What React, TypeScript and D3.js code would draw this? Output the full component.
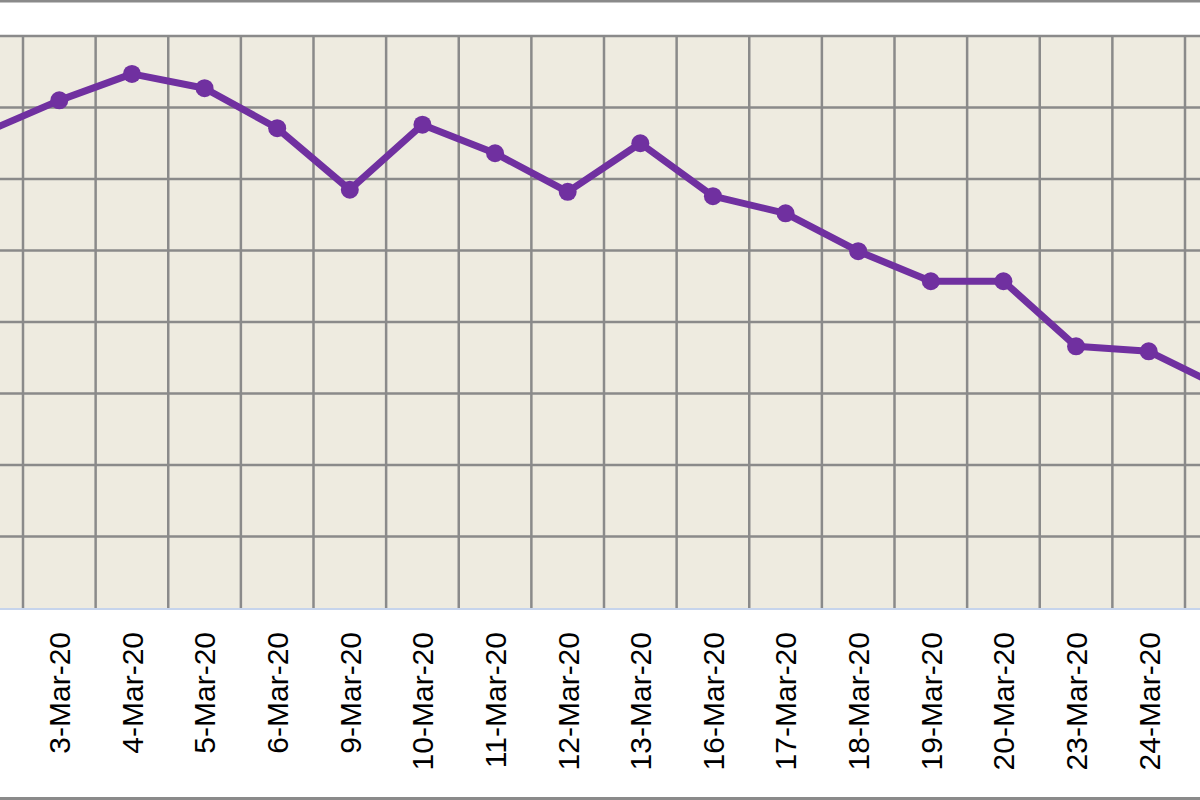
import React, { useEffect, useRef } from 'react';
import * as d3 from 'd3';

// trading days shown (first and last are cut off by the frame)
const dates = [
  '2-Mar-20', '3-Mar-20', '4-Mar-20', '5-Mar-20', '6-Mar-20', '9-Mar-20',
  '10-Mar-20', '11-Mar-20', '12-Mar-20', '13-Mar-20', '16-Mar-20', '17-Mar-20',
  '18-Mar-20', '19-Mar-20', '20-Mar-20', '23-Mar-20', '24-Mar-20', '25-Mar-20',
];

const values = [
  66.6, 71.0, 74.7, 72.7, 67.1, 58.5,
  67.6, 63.6, 58.2, 65.0, 57.6, 55.2,
  49.9, 45.7, 45.7, 36.6, 35.9, 30.9,
];

const yTicks = [0, 10, 20, 30, 40, 50, 60, 70, 80];

const W = 1200;
const H = 800;
const plotTop = 36;
const plotBottom = 608;
const step = 72.625;
const firstEdge = 23 - step;

const App: React.FC = () => {
  const svgRef = useRef<SVGSVGElement>(null);

  useEffect(() => {
    document.body.style.margin = '0';
    if (!svgRef.current) return;
    const svg = d3.select(svgRef.current);
    svg.selectAll('*').remove();

    const x = d3.scaleBand<string>()
      .domain(dates)
      .range([firstEdge, firstEdge + step * dates.length])
      .padding(0);

    const y = d3.scaleLinear()
      .domain([0, 80])
      .range([plotBottom, plotTop]);

    // outer frame
    svg.append('rect').attr('width', W).attr('height', H).attr('fill', '#ffffff');

    // plot area
    svg.append('rect')
      .attr('x', 0).attr('y', plotTop)
      .attr('width', W).attr('height', plotBottom - plotTop)
      .attr('fill', '#eeebe0');

    const grid = svg.append('g').attr('stroke', '#8a8a8a').attr('stroke-width', 2.5);

    grid.selectAll('line.h')
      .data(yTicks.filter(t => t > 0))
      .join('line')
      .attr('class', 'h')
      .attr('x1', 0).attr('x2', W)
      .attr('y1', d => y(d)).attr('y2', d => y(d));

    const edges = dates.map(d => x(d)! ).concat([x(dates[dates.length - 1])! + x.bandwidth()]);
    grid.selectAll('line.v')
      .data(edges)
      .join('line')
      .attr('class', 'v')
      .attr('x1', d => d).attr('x2', d => d)
      .attr('y1', plotTop).attr('y2', plotBottom);

    // category axis line
    svg.append('line')
      .attr('x1', 0).attr('x2', W)
      .attr('y1', plotBottom + 1).attr('y2', plotBottom + 1)
      .attr('stroke', '#c6d4ec').attr('stroke-width', 2);

    const cx = (d: string) => x(d)! + x.bandwidth() / 2;

    const line = d3.line<number>()
      .x((_, i) => cx(dates[i]))
      .y(d => y(d));

    svg.append('path')
      .datum(values)
      .attr('d', line)
      .attr('fill', 'none')
      .attr('stroke', '#7030a0')
      .attr('stroke-width', 7)
      .attr('stroke-linejoin', 'round');

    svg.append('g')
      .selectAll('circle')
      .data(values)
      .join('circle')
      .attr('cx', (_, i) => cx(dates[i]))
      .attr('cy', d => y(d))
      .attr('r', 9)
      .attr('fill', '#7030a0');

    // rotated date labels
    svg.append('g')
      .selectAll('text')
      .data(dates)
      .join('text')
      .attr('transform', d => `translate(${cx(d)},632) rotate(-90)`)
      .attr('dy', '0.36em')
      .attr('text-anchor', 'end')
      .attr('font-family', 'Arial, "Liberation Sans", sans-serif')
      .attr('font-size', 30)
      .attr('fill', '#000000')
      .text(d => d);

    // frame borders top and bottom
    svg.append('rect').attr('x', 0).attr('y', 0).attr('width', W).attr('height', 2.5).attr('fill', '#8a8a8a');
    svg.append('rect').attr('x', 0).attr('y', H - 3).attr('width', W).attr('height', 3).attr('fill', '#8a8a8a');
  }, []);

  return (
    <svg
      ref={svgRef}
      width={W}
      height={H}
      style={{ display: 'block', position: 'absolute', left: 0, top: 0 }}
    />
  );
};

export default App;
